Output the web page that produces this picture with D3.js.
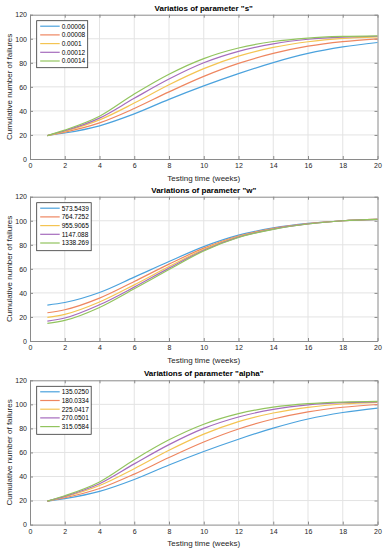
<!DOCTYPE html>
<html><head><meta charset="utf-8">
<script src="https://cdn.jsdelivr.net/npm/d3@7"></script>
<style>
body{margin:0;background:#fff}
svg{display:block}
text{font-family:"Liberation Sans",Arial,Helvetica,sans-serif}
</style>
</head><body>
<svg id="chart" width="383" height="550"></svg>
<script>
// ---------- data ----------
const weeks = [1, 2, 4, 6, 8, 10, 12, 14, 16, 18, 20];
const xTicks = [0, 2, 4, 6, 8, 10, 12, 14, 16, 18, 20];
const yTicks = [0, 20, 40, 60, 80, 100, 120];

const titleS = 'Variatios of parameter "s"';
const labelsS = ["0.00006", "0.00008", "0.0001", "0.00012", "0.00014"];
const sSeries1 = [19.5, 21.6, 27.6, 37.5, 49.6, 60.8, 71.0, 80.2, 87.8, 93.2, 96.9];
const sSeries2 = [19.5, 22.3, 30.0, 42.0, 55.8, 68.7, 79.5, 87.8, 93.8, 97.6, 99.9];
const sSeries3 = [19.5, 23.0, 32.5, 46.5, 61.8, 75.2, 85.6, 92.8, 97.5, 100.3, 101.6];
const sSeries4 = [19.5, 23.5, 34.0, 50.5, 66.5, 80.0, 89.5, 95.8, 99.6, 101.4, 102.1];
const sSeries5 = [19.5, 24.0, 35.5, 54.0, 70.5, 83.5, 92.3, 97.7, 100.6, 101.9, 102.4];

const titleW = 'Variations of parameter "w"';
const labelsW = ["573.5439", "764.7252", "955.9065", "1147.088", "1338.269"];
const wSeries1 = [29.9, 32.0, 40.3, 53.1, 66.1, 78.5, 88.0, 94.0, 97.8, 100.0, 101.2];
const wSeries2 = [23.5, 26.0, 35.7, 49.5, 63.9, 77.2, 87.3, 93.6, 97.6, 100.0, 101.2];
const wSeries3 = [19.6, 22.1, 32.4, 46.7, 61.9, 76.2, 86.8, 93.3, 97.5, 100.0, 101.2];
const wSeries4 = [16.6, 19.1, 30.1, 44.8, 60.6, 75.5, 86.4, 93.1, 97.4, 100.0, 101.2];
const wSeries5 = [14.6, 17.1, 27.9, 43.4, 59.4, 74.9, 86.1, 92.9, 97.3, 100.0, 101.2];

const titleA = 'Variations of parameter "alpha"';
const labelsA = ["135.0250", "180.0334", "225.0417", "270.0501", "315.0584"];
const aSeries1 = [19.5, 21.6, 27.6, 37.5, 49.6, 60.8, 71.0, 80.2, 87.8, 93.2, 96.9];
const aSeries2 = [19.5, 22.3, 30.0, 42.0, 55.8, 68.7, 79.5, 87.8, 93.8, 97.6, 99.9];
const aSeries3 = [19.5, 23.0, 32.5, 46.5, 61.8, 75.2, 85.6, 92.8, 97.5, 100.3, 101.6];
const aSeries4 = [19.5, 23.5, 34.0, 50.5, 66.5, 80.0, 89.5, 95.8, 99.6, 101.4, 102.1];
const aSeries5 = [19.5, 24.0, 35.5, 54.0, 70.5, 83.5, 92.3, 97.7, 100.6, 101.9, 102.4];

const xLabel = "Testing time (weeks)";
const yLabel = "Cumulative number of failures";
const colors = ["#4ba2dd", "#ee8660", "#f4c452", "#a56bbd", "#92c45e"];

// ---------- layout ----------
const panels = [
  {title: titleS, labels: labelsS, series: [sSeries1, sSeries2, sSeries3, sSeries4, sSeries5], top: 14.7, legH: 47, legW: 51},
  {title: titleW, labels: labelsW, series: [wSeries1, wSeries2, wSeries3, wSeries4, wSeries5], top: 196.7, legH: 48, legW: 54.5},
  {title: titleA, labels: labelsA, series: [aSeries1, aSeries2, aSeries3, aSeries4, aSeries5], top: 380.3, legH: 48, legW: 54.5}
];
const left = 30, right = 377.5, plotH = 144.3;

const svg = d3.select("#chart");

panels.forEach(p => {
  const x = d3.scaleLinear().domain([0, 20]).range([left, right]);
  const y = d3.scaleLinear().domain([0, 120]).range([p.top + plotH, p.top]);
  const g = svg.append("g");

  // grid
  g.append("g").selectAll("line").data(xTicks.slice(1, -1)).join("line")
    .attr("x1", d => x(d)).attr("x2", d => x(d))
    .attr("y1", y(0)).attr("y2", y(120))
    .attr("stroke", "#e3e3e3").attr("stroke-width", 1);
  g.append("g").selectAll("line").data(yTicks.slice(1, -1)).join("line")
    .attr("y1", d => y(d)).attr("y2", d => y(d))
    .attr("x1", x(0)).attr("x2", x(20))
    .attr("stroke", "#e3e3e3").attr("stroke-width", 1);

  // axes
  const axB = d3.axisBottom(x).tickValues(xTicks).tickSizeInner(-3).tickSizeOuter(0).tickPadding(4);
  const axT = d3.axisTop(x).tickValues(xTicks).tickSizeInner(-3).tickSizeOuter(0).tickFormat("");
  const axL = d3.axisLeft(y).tickValues(yTicks).tickSizeInner(-3).tickSizeOuter(0).tickPadding(3);
  const axR = d3.axisRight(y).tickValues(yTicks).tickSizeInner(-3).tickSizeOuter(0).tickFormat("");
  const gb = g.append("g").attr("transform", `translate(0,${y(0)})`).call(axB);
  const gt = g.append("g").attr("transform", `translate(0,${y(120)})`).call(axT);
  const gl = g.append("g").attr("transform", `translate(${x(0)},0)`).call(axL);
  const gr = g.append("g").attr("transform", `translate(${x(20)},0)`).call(axR);
  [gb, gt, gl, gr].forEach(a => {
    a.select(".domain").attr("stroke", "#8a8a8a").attr("stroke-width", 1);
    a.selectAll(".tick line").attr("stroke", "#8a8a8a");
    a.selectAll(".tick text").attr("fill", "#262626").attr("font-size", 7)
      .attr("font-family", '"Liberation Sans",Arial,sans-serif');
  });

  // lines
  const line = d3.line().x((d, i) => x(weeks[i])).y(d => y(d)).curve(d3.curveMonotoneX);
  p.series.forEach((s, i) => {
    g.append("path").datum(s).attr("d", line)
      .attr("fill", "none").attr("stroke", colors[i]).attr("stroke-width", 1.2);
  });

  // title
  g.append("text").attr("x", (left + right) / 2).attr("y", p.top - 4)
    .attr("text-anchor", "middle").attr("font-size", 8).attr("font-weight", "bold")
    .attr("fill", "#000").text(p.title);
  // x label
  g.append("text").attr("x", (left + right) / 2).attr("y", y(0) + 21.5)
    .attr("text-anchor", "middle").attr("font-size", 8).attr("fill", "#262626").text(xLabel);
  // y label
  g.append("text").attr("transform", `translate(${11.5},${p.top + plotH / 2}) rotate(-90)`)
    .attr("text-anchor", "middle").attr("font-size", 8).attr("fill", "#262626").text(yLabel);

  // legend
  const lx = 36.7, ly = p.top + 6;
  const lg = g.append("g");
  lg.append("rect").attr("x", lx).attr("y", ly).attr("width", p.legW).attr("height", p.legH)
    .attr("fill", "#fff").attr("stroke", "#333").attr("stroke-width", 0.8);
  p.labels.forEach((lab, i) => {
    const yy = ly + 5.5 + i * 8.7;
    lg.append("line").attr("x1", lx + 3.5).attr("x2", lx + 23).attr("y1", yy).attr("y2", yy)
      .attr("stroke", colors[i]).attr("stroke-width", 1.2);
    lg.append("text").attr("x", lx + 25).attr("y", yy + 2.3).attr("font-size", 6.5)
      .attr("fill", "#000").text(lab);
  });
});
</script>
</body></html>
